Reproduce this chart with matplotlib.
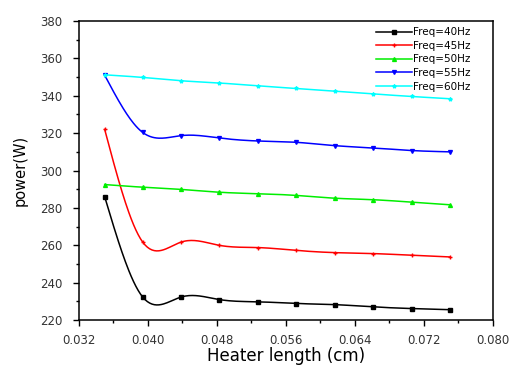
import matplotlib
matplotlib.use('Agg')
import matplotlib.pyplot as plt
import numpy as np
from matplotlib.ticker import MultipleLocator

plt.rcParams['font.family'] = ['DejaVu Sans']

# heater length (cm)
length = [0.0350, 0.0394, 0.0439, 0.0483, 0.0528, 0.0572, 0.0617, 0.0661, 0.0706, 0.0750]

p40 = [286.0, 232.4, 232.4, 231.0, 229.8, 228.9, 228.3, 227.1, 226.2, 225.6]
p45 = [322.0, 261.8, 261.8, 260.0, 258.8, 257.3, 256.1, 255.6, 254.7, 253.8]
p50 = [292.5, 291.1, 289.9, 288.4, 287.6, 286.7, 285.2, 284.4, 283.1, 281.7]
p55 = [351.0, 320.4, 318.7, 317.4, 315.8, 315.1, 313.3, 312.1, 310.7, 310.0]
p60 = [351.2, 349.8, 348.0, 346.8, 345.3, 343.9, 342.5, 341.0, 339.6, 338.4]

labels = ['Freq=40Hz', 'Freq=45Hz', 'Freq=50Hz', 'Freq=55Hz', 'Freq=60Hz']
colors = ['black', 'red', '#00ee00', 'blue', 'cyan']
markers = ['s', '+', '^', 'v', '*']


def smooth(x, y, n=300):
    # natural cubic spline, like the origin "spline" connect mode
    x = np.asarray(x, float)
    y = np.asarray(y, float)
    k = len(x)
    h = np.diff(x)
    A = np.zeros((k, k))
    b = np.zeros(k)
    A[0, 0] = A[-1, -1] = 1
    for i in range(1, k - 1):
        A[i, i - 1] = h[i - 1]
        A[i, i] = 2 * (h[i - 1] + h[i])
        A[i, i + 1] = h[i]
        b[i] = 6 * ((y[i + 1] - y[i]) / h[i] - (y[i] - y[i - 1]) / h[i - 1])
    M = np.linalg.solve(A, b)
    xs = np.linspace(x[0], x[-1], n)
    idx = np.clip(np.searchsorted(x, xs) - 1, 0, k - 2)
    x0, x1 = x[idx], x[idx + 1]
    hh = x1 - x0
    t0 = x1 - xs
    t1 = xs - x0
    ys = (M[idx] * t0**3 / (6 * hh) + M[idx + 1] * t1**3 / (6 * hh)
          + (y[idx] / hh - M[idx] * hh / 6) * t0
          + (y[idx + 1] / hh - M[idx + 1] * hh / 6) * t1)
    return xs, ys


fig = plt.figure(figsize=(5.15, 3.74), dpi=100)
ax = fig.add_axes([0.153, 0.144, 0.804, 0.800])

for series, lab, c, m in zip([p40, p45, p50, p55, p60], labels, colors, markers):
    xs, ys = smooth(length, series)
    ax.plot(xs, ys, color=c, lw=1.1)
    ax.plot(length, series, ls='none', marker=m, color=c, ms=2.8, mew=1)
    ax.plot([], [], color=c, lw=1.1, marker=m, ms=2.8, label=lab)

ax.set_xlim(0.032, 0.080)
ax.set_ylim(220, 380)
ax.xaxis.set_major_locator(MultipleLocator(0.008))
ax.xaxis.set_minor_locator(MultipleLocator(0.004))
ax.yaxis.set_major_locator(MultipleLocator(20))
ax.yaxis.set_minor_locator(MultipleLocator(10))
ax.xaxis.set_major_formatter(matplotlib.ticker.FormatStrFormatter('%.3f'))
ax.tick_params(which='major', direction='out', length=4, width=1, labelsize=8.5,
               labelcolor='#333333')
ax.tick_params(axis='x', which='major', pad=6)
ax.tick_params(axis='y', which='major', pad=8)
ax.tick_params(which='minor', direction='out', length=2.5, width=1)
for s in ax.spines.values():
    s.set_linewidth(1.1)

ax.set_xlabel('Heater length (cm)', fontsize=12, labelpad=0)
ax.set_ylabel('power(W)', fontsize=10.5, labelpad=9)

ax.legend(loc='upper right', frameon=False, fontsize=7.5, handlelength=3.4,
          handletextpad=0.1, labelspacing=0.35, borderaxespad=0.2,
          bbox_to_anchor=(0.96, 1.0))

plt.savefig('out.png', dpi=100)
